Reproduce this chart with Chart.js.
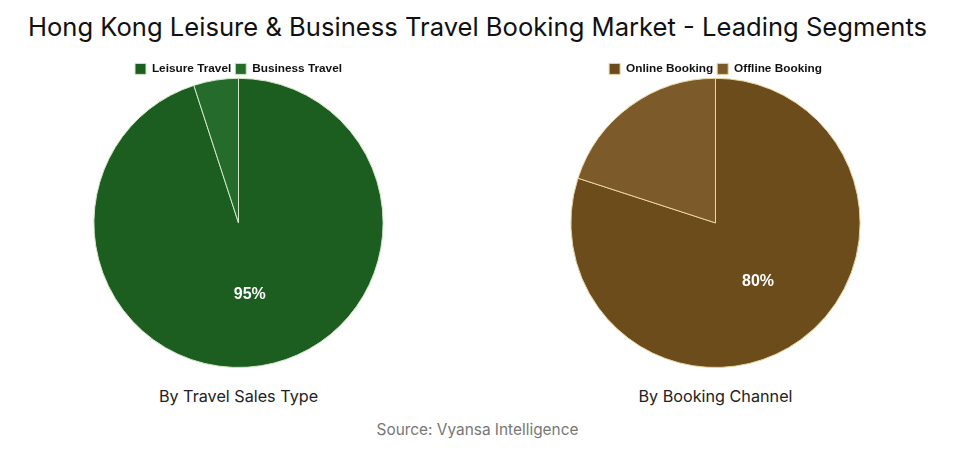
<!DOCTYPE html>
<html>
<head>
<meta charset="utf-8">
<script src="https://cdn.jsdelivr.net/npm/chart.js@4.4.1/dist/chart.umd.min.js"></script>
<style>
  html, body { margin: 0; padding: 0; background: #fff; }
  body { width: 955px; height: 454px; position: relative; overflow: hidden; font-family: Inter, "Open Sans", sans-serif; }
  #title { position: absolute; top: 11px; left: 0; width: 955px; text-align: center; font-size: 25.6px; color: #111; }
  .box { position: absolute; top: 50px; width: 477px; height: 318px; }
  .sub { position: absolute; top: 386px; width: 477px; text-align: center; font-size: 16.2px; color: #222; }
  #source { position: absolute; top: 420px; left: 0; width: 955px; text-align: center; font-size: 15.4px; color: #777; }
</style>
</head>
<body>
<div id="title">Hong Kong Leisure &amp; Business Travel Booking Market - Leading Segments</div>
<div class="box" style="left:0"><canvas id="salesChart"></canvas></div>
<div class="box" style="left:477px"><canvas id="channelChart"></canvas></div>
<div class="sub" style="left:0">By Travel Sales Type</div>
<div class="sub" style="left:477px">By Booking Channel</div>
<div id="source">Source: Vyansa Intelligence</div>

<script>
const salesLabels = ["Leisure Travel", "Business Travel"];
const salesValues = [95, 5];
const channelLabels = ["Online Booking", "Offline Booking"];
const channelValues = [80, 20];

// only the biggest slice gets its percentage
const bigLabel = {
  id: "bigLabel",
  afterDatasetsDraw(chart) {
    const ds = chart.data.datasets[0];
    const meta = chart.getDatasetMeta(0);
    const max = Math.max(...ds.data);
    const i = ds.data.indexOf(max);
    const pos = meta.data[i].tooltipPosition();
    const ctx = chart.ctx;
    ctx.save();
    ctx.font = "bold 16px 'Liberation Sans', Arial, sans-serif";
    ctx.fillStyle = "#fff";
    ctx.textAlign = "center";
    ctx.textBaseline = "middle";
    ctx.fillText(max + "%", pos.x, pos.y);
    ctx.restore();
  }
};

// pull the pie a bit closer to the legend
const tightLegend = {
  id: "tightLegend",
  beforeInit(chart) {
    const fit = chart.legend.fit;
    chart.legend.fit = function () {
      fit.bind(chart.legend)();
      this.height -= 7;
    };
  }
};

function buildPie(id, labels, values, colors, border) {
  const ctx = document.getElementById(id);
  return new Chart(ctx, {
    type: "pie",
    data: {
      labels,
      datasets: [{
        data: values,
        backgroundColor: colors,
        borderColor: border,
        borderWidth: 1
      }]
    },
    options: {
      responsive: true,
      maintainAspectRatio: false,
      animation: false,
      layout: { padding: { top: 9 } },
      plugins: {
        legend: {
          position: "top",
          labels: {
            boxWidth: 11,
            boxHeight: 11,
            padding: 4,
            color: "#111",
            font: { family: "'Liberation Sans', Arial, sans-serif", size: 11.8, weight: "bold" }
          }
        },
        tooltip: { enabled: false }
      }
    },
    plugins: [bigLabel, tightLegend]
  });
}

buildPie("salesChart", salesLabels, salesValues, ["#1b5e20", "#256b2c"], "#d4e8c8");
buildPie("channelChart", channelLabels, channelValues, ["#6d4c1c", "#7c5a2a"], "#ead7a4");
</script>
</body>
</html>
